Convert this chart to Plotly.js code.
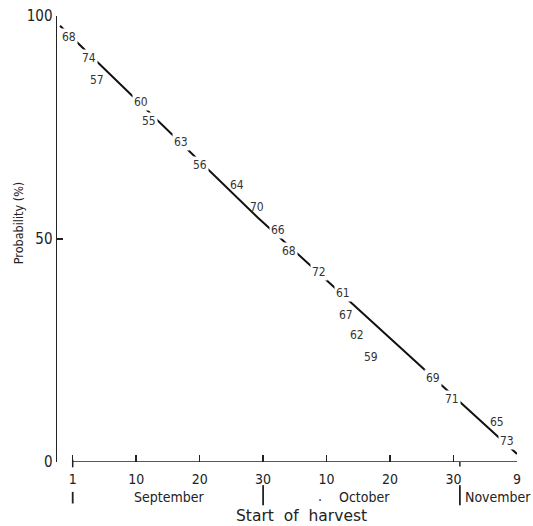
<!DOCTYPE html>
<html>
<head>
<meta charset="utf-8">
<script src="https://cdn.plot.ly/plotly-3.0.1.min.js"></script>
<style>html,body{margin:0;padding:0;background:#fff;}#chart{width:533px;height:526px;}</style>
</head>
<body>
<div id="chart"></div>
<script>
// ---- data ----
const tickDays   = [0, 10, 20, 30, 40, 50, 60, 70];
const tickLabels = ['1', '10', '20', '30', '10', '20', '30', '9'];
const yTicks     = [0, 50, 100];

const years    = ['68','74','57','60','55','63','56','64','70','66','68','72','61','67','62','59','69','71','65','73'];
const yearDay  = [-0.6, 2.6, 3.8, 10.8, 12.0, 17.1, 20.1, 25.9, 29.1, 32.4, 34.1, 38.8, 42.6, 43.1, 44.8, 47.0, 56.8, 59.8, 66.9, 68.5];
const yearProb = [95.3, 90.6, 85.6, 80.7, 76.4, 71.7, 66.5, 62.0, 57.1, 52.1, 47.4, 42.7, 37.8, 33.0, 28.5, 23.6, 18.9, 14.2, 9.0, 4.7];
const onLine   = [1, 1, 0, 1, 1, 1, 1, 0, 0, 1, 1, 1, 1, 0, 0, 0, 1, 1, 0, 1];

// hand-drawn line read at three points
const lineDay  = [-2.0, 29.1, 70.0];
const lineProb = [97.8, 54.9, 1.8];

const months       = ['September', 'October', 'November'];
const monthBounds  = [0, 30, 61];

// ---- layout helpers ----
const FONT = 'DejaVu Sans Condensed, DejaVu Sans, sans-serif';
const FONT_WIDE = 'DejaVu Sans, sans-serif';
const INK = '#222';
const monthX = [15.2, 46, 67];

const annotations = years.map((t, i) => ({
  x: yearDay[i], y: yearProb[i], xref: 'x', yref: 'y', text: t, showarrow: false,
  font: {family: FONT, size: 12, color: '#333'},
  bgcolor: onLine[i] ? '#ffffff' : 'rgba(0,0,0,0)', borderpad: 1
}));
months.forEach((m, i) => annotations.push({
  x: monthX[i], y: -0.078, xref: 'x', yref: 'paper', text: m, showarrow: false,
  yanchor: 'middle', font: {family: FONT, size: 14, color: INK}
}));
annotations.push({x: 39, y: -0.076, xref: 'x', yref: 'paper', text: '.', showarrow: false,
  yanchor: 'middle', font: {family: FONT, size: 14, color: INK}});
annotations.push({x: 36.0, y: -0.122, xref: 'x', yref: 'paper', text: 'Start  of  harvest', showarrow: false,
  yanchor: 'middle', font: {family: FONT_WIDE, size: 15.5, color: INK}});
annotations.push({x: -0.083, y: 0.535, xref: 'paper', yref: 'paper', text: 'Probability (%)', showarrow: false,
  textangle: -90, xanchor: 'center', yanchor: 'middle', font: {family: FONT, size: 12.5, color: INK}});

const shapes = [
  {type: 'line', xref: 'x', yref: 'y', x0: tickDays[0], x1: tickDays[tickDays.length - 1], y0: 0, y1: 0,
   line: {color: INK, width: 1.5}},
  {type: 'line', xref: 'x', yref: 'paper', x0: tickDays[0], x1: tickDays[0], y0: 0.005, y1: -0.012,
   line: {color: INK, width: 1.5}},
  {type: 'line', xref: 'x', yref: 'paper', x0: monthBounds[2], x1: monthBounds[2], y0: 0, y1: -0.01,
   line: {color: INK, width: 1.5}}
];
monthBounds.forEach((b, i) => shapes.push({
  type: 'line', xref: 'x', yref: 'paper', x0: b, x1: b,
  y0: i === 0 ? -0.067 : -0.052, y1: i === 0 ? -0.093 : -0.097,
  line: {color: INK, width: 1.8}
}));

const traces = [{
  x: lineDay, y: lineProb, type: 'scatter', mode: 'lines',
  line: {color: '#111', width: 2}, hoverinfo: 'skip'
}];

const layout = {
  width: 533, height: 526,
  margin: {l: 57, r: 16, t: 16, b: 64},
  paper_bgcolor: '#fff', plot_bgcolor: '#fff',
  showlegend: false,
  xaxis: {
    range: [-2.475, 70], showline: false, zeroline: false, showgrid: false,
    ticks: 'inside', ticklen: 7, tickwidth: 1.5, tickcolor: INK,
    tickvals: tickDays, ticktext: tickLabels, ticklabelstandoff: 7,
    tickfont: {family: FONT, size: 14, color: INK}
  },
  yaxis: {
    range: [0, 100], showline: true, linecolor: INK, linewidth: 1.5, zeroline: false, showgrid: false,
    ticks: 'inside', ticklen: 6, tickwidth: 1.5, tickcolor: INK,
    tickvals: yTicks, ticktext: yTicks.map(String),
    tickfont: {family: FONT, size: 15, color: INK}
  },
  annotations: annotations,
  shapes: shapes
};

Plotly.newPlot('chart', traces, layout, {displayModeBar: false, staticPlot: true});
</script>
</body>
</html>
